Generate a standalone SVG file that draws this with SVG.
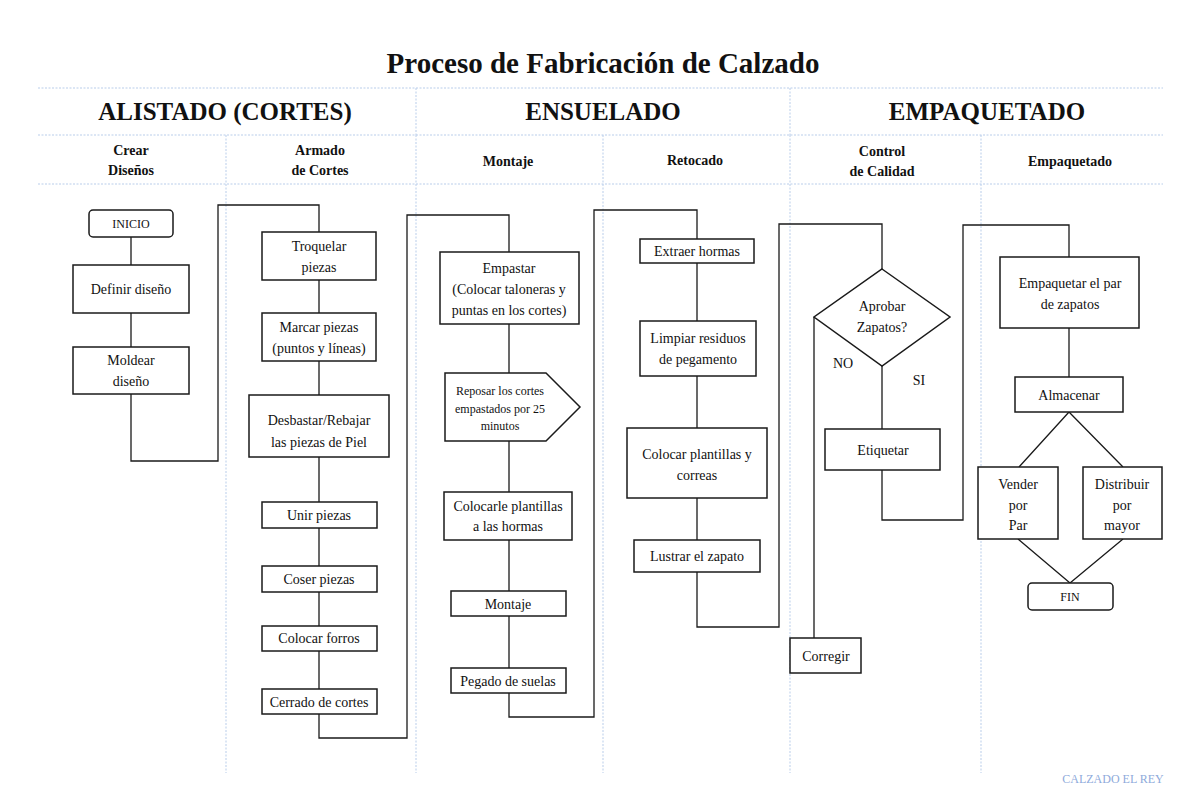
<svg xmlns="http://www.w3.org/2000/svg" width="1200" height="811" viewBox="0 0 1200 811">
<style>
.grid{stroke:#b9cdea;stroke-width:1;stroke-dasharray:2 1.5;fill:none}
.box{fill:#fff;stroke:#1a1a1a;stroke-width:1.5}
.ln{fill:none;stroke:#1a1a1a;stroke-width:1.3}
text{font-family:"Liberation Serif","Times New Roman",serif;fill:#111;text-anchor:middle}
.t{font-size:14px}
.s{font-size:12px}
.h1{font-size:29px;font-weight:bold}
.h2{font-size:25px;font-weight:bold}
.h3{font-size:14px;font-weight:bold}
</style>
<rect width="1200" height="811" fill="#fff"/>
<g id="grid">
<path class="grid" d="M38 88H1163M38 135H1163M38 184H1163"/>
<path class="grid" d="M416 88V135M790 88V135"/>
<path class="grid" d="M226 135V773M416 135V773M603 135V773M790 135V773M981 135V773"/>
</g>
<g id="headers">
<text class="h1" x="603" y="73">Proceso de Fabricación de Calzado</text>
<text class="h2" x="225" y="120">ALISTADO (CORTES)</text>
<text class="h2" x="603" y="120">ENSUELADO</text>
<text class="h2" x="987" y="120">EMPAQUETADO</text>
<text class="h3" x="131" y="155">Crear</text><text class="h3" x="131" y="175">Diseños</text>
<text class="h3" x="320" y="155">Armado</text><text class="h3" x="320" y="175">de Cortes</text>
<text class="h3" x="508" y="166">Montaje</text>
<text class="h3" x="695" y="165">Retocado</text>
<text class="h3" x="882" y="156">Control</text><text class="h3" x="882" y="176">de Calidad</text>
<text class="h3" x="1070" y="166">Empaquetado</text>
</g>
<g id="connectors">
<path class="ln" d="M131 237V265M131 313V347"/>
<path class="ln" d="M131 394V461H218V205H319V232"/>
<path class="ln" d="M319 280V313M319 361V395M319 457V502M319 528V566M319 592V626M319 651V689"/>
<path class="ln" d="M319 714V738H407V215H509V252"/>
<path class="ln" d="M509 324V373M509 441V492M509 540V591M509 616V668"/>
<path class="ln" d="M509 693V717H594V210H697V239"/>
<path class="ln" d="M697 263V321M697 376V428M697 498V540"/>
<path class="ln" d="M697 572V627H779V224H882V269"/>
<path class="ln" d="M814 317V638M882 366V429"/>
<path class="ln" d="M882 470V520H963V225H1069V257"/>
<path class="ln" d="M1069 328V377"/>
<path class="ln" d="M1069 412L1019 467M1069 412L1123 467"/>
<path class="ln" d="M1018 539L1070 583M1123 539L1070 583"/>
</g>
<g id="n-inicio"><rect class="box" x="89" y="210" width="84" height="27" rx="4"/><text class="s" x="131" y="228">INICIO</text></g>
<g id="n-definir"><rect class="box" x="73" y="265" width="116" height="48"/><text class="t" x="131" y="294">Definir diseño</text></g>
<g id="n-moldear"><rect class="box" x="73" y="347" width="116" height="47"/><text class="t" x="131" y="365">Moldear</text><text class="t" x="131" y="386">diseño</text></g>
<g id="n-troquelar"><rect class="box" x="262" y="232" width="114" height="48"/><text class="t" x="319" y="251">Troquelar</text><text class="t" x="319" y="272">piezas</text></g>
<g id="n-marcar"><rect class="box" x="262" y="313" width="114" height="48"/><text class="t" x="319" y="332">Marcar piezas</text><text class="t" x="319" y="353">(puntos y líneas)</text></g>
<g id="n-desbastar"><rect class="box" x="249" y="395" width="140" height="62"/><text class="t" x="319" y="425">Desbastar/Rebajar</text><text class="t" x="319" y="447">las piezas de Piel</text></g>
<g id="n-unir"><rect class="box" x="262" y="502" width="115" height="26"/><text class="t" x="319" y="520">Unir piezas</text></g>
<g id="n-coser"><rect class="box" x="262" y="566" width="115" height="26"/><text class="t" x="319" y="584">Coser piezas</text></g>
<g id="n-forros"><rect class="box" x="262" y="626" width="115" height="25"/><text class="t" x="319" y="643">Colocar forros</text></g>
<g id="n-cerrado"><rect class="box" x="262" y="689" width="115" height="25"/><text class="t" x="319" y="707">Cerrado de cortes</text></g>
<g id="n-empastar"><rect class="box" x="440" y="252" width="139" height="72"/><text class="t" x="509" y="273">Empastar</text><text class="t" x="509" y="294">(Colocar taloneras y</text><text class="t" x="509" y="315">puntas en los cortes)</text></g>
<g id="n-reposar"><path class="box" d="M445 373H546L580 407L546 441H445Z"/><text class="s" x="500" y="395">Reposar los cortes</text><text class="s" x="500" y="413">empastados por 25</text><text class="s" x="500" y="430">minutos</text></g>
<g id="n-colocarle"><rect class="box" x="444" y="492" width="128" height="48"/><text class="t" x="508" y="511">Colocarle plantillas</text><text class="t" x="508" y="531">a las hormas</text></g>
<g id="n-montaje"><rect class="box" x="451" y="591" width="115" height="25"/><text class="t" x="508" y="609">Montaje</text></g>
<g id="n-pegado"><rect class="box" x="451" y="668" width="115" height="25"/><text class="t" x="508" y="686">Pegado de suelas</text></g>
<g id="n-extraer"><rect class="box" x="640" y="239" width="114" height="24"/><text class="t" x="697" y="256">Extraer hormas</text></g>
<g id="n-limpiar"><rect class="box" x="640" y="321" width="116" height="55"/><text class="t" x="698" y="343">Limpiar residuos</text><text class="t" x="698" y="364">de pegamento</text></g>
<g id="n-plantillas"><rect class="box" x="627" y="428" width="140" height="70"/><text class="t" x="697" y="459">Colocar plantillas y</text><text class="t" x="697" y="480">correas</text></g>
<g id="n-lustrar"><rect class="box" x="634" y="540" width="126" height="32"/><text class="t" x="697" y="561">Lustrar el zapato</text></g>
<g id="n-aprobar"><path class="box" d="M882 269L950 317L882 366L814 317Z"/><text class="t" x="882" y="311">Aprobar</text><text class="t" x="882" y="332">Zapatos?</text></g>
<g id="labels"><text class="t" x="843" y="368">NO</text><text class="t" x="919" y="385">SI</text></g>
<g id="n-corregir"><rect class="box" x="790" y="638" width="71" height="35"/><text class="t" x="826" y="661">Corregir</text></g>
<g id="n-etiquetar"><rect class="box" x="825" y="429" width="115" height="41"/><text class="t" x="883" y="455">Etiquetar</text></g>
<g id="n-empaquetar"><rect class="box" x="1000" y="257" width="139" height="71"/><text class="t" x="1070" y="288">Empaquetar el par</text><text class="t" x="1070" y="309">de zapatos</text></g>
<g id="n-almacenar"><rect class="box" x="1015" y="377" width="108" height="35"/><text class="t" x="1069" y="400">Almacenar</text></g>
<g id="n-vender"><rect class="box" x="978" y="467" width="80" height="72"/><text class="t" x="1018" y="489">Vender</text><text class="t" x="1018" y="510">por</text><text class="t" x="1018" y="530">Par</text></g>
<g id="n-distribuir"><rect class="box" x="1083" y="467" width="79" height="72"/><text class="t" x="1122" y="489">Distribuir</text><text class="t" x="1122" y="510">por</text><text class="t" x="1122" y="530">mayor</text></g>
<g id="n-fin"><rect class="box" x="1028" y="583" width="85" height="27" rx="4"/><text class="s" x="1070" y="601">FIN</text></g>
<g id="footer"><text x="1113" y="783" style="font-size:12px;fill:#8eaadb">CALZADO EL REY</text></g>
</svg>
